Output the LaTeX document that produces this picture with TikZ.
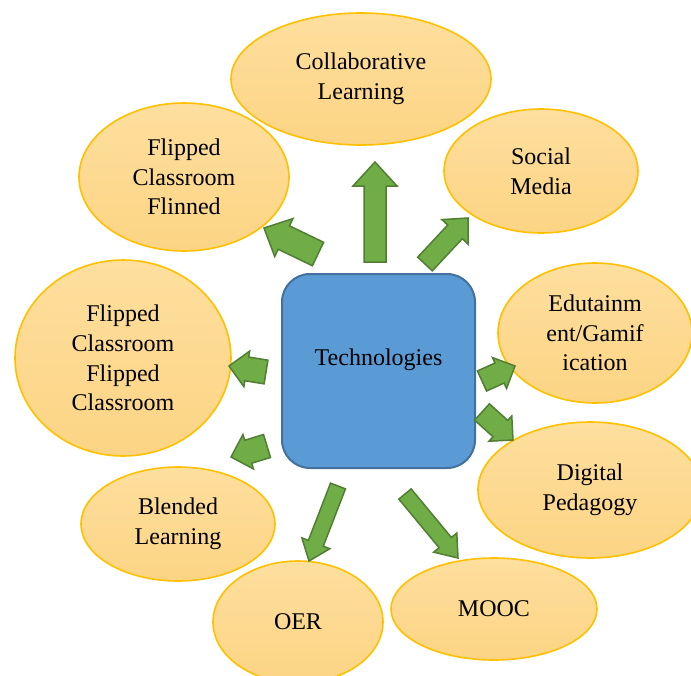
\documentclass[tikz,border=0pt]{standalone}
\usepackage{fontspec}
\setmainfont{Liberation Serif}
\usetikzlibrary{calc,shapes.geometric}

\definecolor{ellfill}{HTML}{FCD484}
\definecolor{ellfilltop}{HTML}{FEDF9E}
\definecolor{ellline}{HTML}{FFC000}
\definecolor{boxfill}{HTML}{5B9BD5}
\definecolor{boxline}{HTML}{41719C}
\definecolor{arrfill}{HTML}{70AD47}
\definecolor{arrline}{HTML}{507E32}

\tikzset{
  topic/.style={ellipse, draw=ellline, line width=1.6pt,
    top color=ellfilltop, bottom color=ellfill, inner sep=0pt,
    align=center, font=\fontsize{24}{29.7}\selectfont},
  hub/.style={rectangle, rounded corners=28pt, draw=boxline, fill=boxfill,
    line width=2pt, minimum width=193pt, minimum height=194pt,
    text depth=28pt, font=\fontsize{24}{29.7}\selectfont},
  arrowbody/.style={fill=arrfill, draw=arrline, line width=1.5pt, line join=miter}
}

% block arrow: name, tail, tip, shaft half-width, head half-width, head length
\newcommand\greenarrow[6]{%
  \coordinate (#1t) at #2;
  \coordinate (#1h) at #3;
  \coordinate (#1b) at ($(#1h)!#6pt!(#1t)$);
  \draw[arrowbody]
    ($(#1t)!#4pt!90:(#1h)$) -- ($(#1b)!#4pt!-90:(#1t)$) --
    ($(#1b)!#5pt!-90:(#1t)$) -- (#1h) --
    ($(#1b)!#5pt!90:(#1t)$) -- ($(#1b)!#4pt!90:(#1t)$) --
    ($(#1t)!#4pt!-90:(#1h)$) -- cycle;}

\begin{document}
\begin{tikzpicture}[x=1pt,y=-1pt]
  \useasboundingbox (0,0) rectangle (691,675);

  % surrounding topics
  \node[topic, minimum width=260pt, minimum height=132pt] (collab) at (361,79) {Collaborative\\Learning};
  \node[topic, minimum width=210pt, minimum height=148pt] (flipa) at (184,177) {Flipped\\Classroom\\Flinned};
  \node[topic, minimum width=194pt, minimum height=124pt] (social) at (541,171) {Social\\Media};
  \node[topic, minimum width=194pt, minimum height=140pt] (edu) at (595,333) {Edutainm\\ent/Gamif\\ication};
  \node[topic, minimum width=224pt, minimum height=136pt] (digital) at (590,490) {Digital\\Pedagogy};
  \node[topic, minimum width=206pt, minimum height=102pt] (mooc) at (494,609) {MOOC};
  \node[topic, minimum width=170pt, minimum height=122pt] (oer) at (298,622) {OER};
  \node[topic, minimum width=194pt, minimum height=114pt] (blended) at (178,524) {Blended\\Learning};
  \node[topic, minimum width=216pt, minimum height=196pt] (flipb) at (123,358) {Flipped\\Classroom\\Flipped\\Classroom};

  % central hub
  \node[hub] (tech) at (378.5,371) {Technologies};

  % arrows from the hub to each topic
  \greenarrow{up}{(375,262)}{(375,162)}{11}{22}{24}
  \greenarrow{tl}{(318,254)}{(264,228)}{13}{21}{22}
  \greenarrow{tr}{(425,264)}{(468,218)}{10}{18}{19}
  \greenarrow{lu}{(266,372)}{(229,366)}{12}{18}{18}
  \greenarrow{ll}{(267,446)}{(231,457)}{12}{18}{18}
  \greenarrow{ru}{(482,381)}{(515,366)}{11}{17}{17}
  \greenarrow{rl}{(482,412)}{(513,440)}{11}{17}{17}
  \greenarrow{dl}{(338,486)}{(309,561)}{8}{15}{19}
  \greenarrow{dr}{(405,494)}{(458,558)}{8}{15}{20}
\end{tikzpicture}
\end{document}
